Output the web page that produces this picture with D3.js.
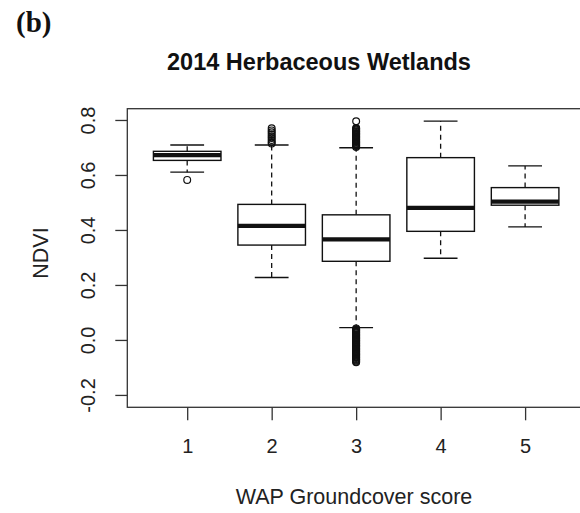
<!DOCTYPE html>
<html>
<head>
<meta charset="utf-8">
<script src="https://cdn.jsdelivr.net/npm/d3@7"></script>
<style>
  html, body { margin: 0; padding: 0; background: #fff; }
  svg { display: block; }
</style>
</head>
<body>
<svg id="chart" width="580" height="513"></svg>
<script>
// Groundcover score categories
const scores = [1, 2, 3, 4, 5];

// Five-number summaries of NDVI per score (lower whisker, Q1, median, Q3, upper whisker)
const whiskerLow  = [0.610, 0.227, 0.045, 0.297, 0.411];
const quartile1   = [0.653, 0.345, 0.286, 0.395, 0.490];
const medians     = [0.672, 0.415, 0.366, 0.480, 0.503];
const quartile3   = [0.686, 0.493, 0.455, 0.663, 0.554];
const whiskerHigh = [0.709, 0.709, 0.699, 0.796, 0.633];

// Points beyond the whiskers, per score
const outliers1 = [0.582];
const outliers2 = [0.714, 0.720, 0.727, 0.734, 0.741, 0.748, 0.755, 0.762, 0.770];
const outliers3 = [0.702, 0.705, 0.708, 0.711, 0.714, 0.717, 0.720, 0.723, 0.726, 0.729,
                   0.732, 0.735, 0.738, 0.741, 0.744, 0.747, 0.750, 0.753, 0.756, 0.759,
                   0.762, 0.765, 0.768, 0.771, 0.795,
                   0.042, 0.039, 0.036, 0.033, 0.030, 0.027, 0.024, 0.021, 0.018, 0.015,
                   0.012, 0.009, 0.006, 0.003, 0.000, -0.003, -0.006, -0.009, -0.012,
                   -0.015, -0.018, -0.021, -0.024, -0.027, -0.030, -0.033, -0.036,
                   -0.039, -0.042, -0.045, -0.048, -0.051, -0.054, -0.057, -0.060,
                   -0.063, -0.066, -0.069, -0.072, -0.075, -0.078, -0.081];
const outliers4 = [];
const outliers5 = [];
const outliers = [outliers1, outliers2, outliers3, outliers4, outliers5];

const yTicks = [-0.2, 0.0, 0.2, 0.4, 0.6, 0.8];

const boxes = scores.map((s, i) => ({
  score: s,
  lo: whiskerLow[i], q1: quartile1[i], med: medians[i],
  q3: quartile3[i], hi: whiskerHigh[i], out: outliers[i]
}));

const svg = d3.select("#chart");
const ink = "#111";

// Plot region
const plotLeft = 127.3, plotRight = 585, plotTop = 108.7, plotBottom = 407.3;

const x = d3.scaleLinear().domain([0.291, 5.709]).range([plotLeft, plotRight]);
const y = d3.scaleLinear().domain([-0.245, 0.841]).range([plotBottom, plotTop]);

const boxHalf = (x(1.4) - x(1));   // box width 0.8 of a category
const capHalf = boxHalf / 2;

// Frame
svg.append("rect")
  .attr("x", plotLeft).attr("y", plotTop)
  .attr("width", plotRight - plotLeft).attr("height", plotBottom - plotTop)
  .attr("fill", "none").attr("stroke", "#333").attr("stroke-width", 1.3);

// Y axis (plain hyphen for negative numbers)
const yAxis = d3.axisLeft(y).tickValues(yTicks).tickSize(12).tickFormat(d => d.toFixed(1));
const gy = svg.append("g").attr("transform", `translate(${plotLeft},0)`).call(yAxis);
gy.select(".domain").remove();
gy.selectAll(".tick line").attr("stroke", "#333").attr("stroke-width", 1.3);
gy.selectAll(".tick text")
  .attr("x", null).attr("dy", null)
  .attr("transform", "translate(-32.3,0) rotate(-90)")
  .attr("text-anchor", "middle")
  .attr("font-family", "Liberation Sans, Arial, sans-serif")
  .attr("font-size", 20).attr("fill", "#222");

// X axis
const xAxis = d3.axisBottom(x).tickValues(scores).tickSize(13).tickFormat(d3.format("d"));
const gx = svg.append("g").attr("transform", `translate(0,${plotBottom})`).call(xAxis);
gx.select(".domain").remove();
gx.selectAll(".tick line").attr("stroke", "#333").attr("stroke-width", 1.3);
gx.selectAll(".tick text")
  .attr("y", 46).attr("dy", null)
  .attr("font-family", "Liberation Sans, Arial, sans-serif")
  .attr("font-size", 20).attr("fill", "#222");

// Boxplots
const g = svg.append("g").attr("fill", "none").attr("stroke", ink);
const b = g.selectAll("g.box").data(boxes).join("g").attr("class", "box");

// dashed whiskers
b.append("line")
  .attr("x1", d => x(d.score)).attr("x2", d => x(d.score))
  .attr("y1", d => y(d.q3)).attr("y2", d => y(d.hi))
  .attr("stroke-width", 1.3).attr("stroke-dasharray", "5,4");
b.append("line")
  .attr("x1", d => x(d.score)).attr("x2", d => x(d.score))
  .attr("y1", d => y(d.q1)).attr("y2", d => y(d.lo))
  .attr("stroke-width", 1.3).attr("stroke-dasharray", "5,4");

// whisker caps
b.append("line")
  .attr("x1", d => x(d.score) - capHalf).attr("x2", d => x(d.score) + capHalf)
  .attr("y1", d => y(d.hi)).attr("y2", d => y(d.hi))
  .attr("stroke-width", 1.3);
b.append("line")
  .attr("x1", d => x(d.score) - capHalf).attr("x2", d => x(d.score) + capHalf)
  .attr("y1", d => y(d.lo)).attr("y2", d => y(d.lo))
  .attr("stroke-width", 1.3);

// boxes
b.append("rect")
  .attr("x", d => x(d.score) - boxHalf)
  .attr("y", d => y(d.q3))
  .attr("width", boxHalf * 2)
  .attr("height", d => y(d.q1) - y(d.q3))
  .attr("fill", "#fff")
  .attr("stroke-width", 1.4);

// medians
b.append("line")
  .attr("x1", d => x(d.score) - boxHalf).attr("x2", d => x(d.score) + boxHalf)
  .attr("y1", d => y(d.med)).attr("y2", d => y(d.med))
  .attr("stroke-width", 4.2);

// outliers as open circles
b.selectAll("circle")
  .data(d => d.out.map(v => ({ score: d.score, v })))
  .join("circle")
  .attr("cx", d => x(d.score))
  .attr("cy", d => y(d.v))
  .attr("r", 3.4)
  .attr("fill", "none")
  .attr("stroke-width", 1.2);

// Titles
svg.append("text")
  .attr("x", 319).attr("y", 70)
  .attr("text-anchor", "middle")
  .attr("font-family", "Liberation Sans, Arial, sans-serif")
  .attr("font-weight", "bold").attr("font-size", 23.5).attr("fill", ink)
  .text("2014 Herbaceous Wetlands");

svg.append("text")
  .attr("x", 354).attr("y", 504)
  .attr("text-anchor", "middle")
  .attr("font-family", "Liberation Sans, Arial, sans-serif")
  .attr("font-size", 21.5).attr("fill", "#222")
  .text("WAP Groundcover score");

svg.append("text")
  .attr("transform", "translate(48,253) rotate(-90)")
  .attr("text-anchor", "middle")
  .attr("font-family", "Liberation Sans, Arial, sans-serif")
  .attr("font-size", 21.5).attr("fill", "#222")
  .text("NDVI");

svg.append("text")
  .attr("x", 16).attr("y", 32)
  .attr("font-family", "Liberation Serif, Times New Roman, serif")
  .attr("font-weight", "bold").attr("font-size", 29).attr("fill", ink)
  .text("(b)");
</script>
</body>
</html>
